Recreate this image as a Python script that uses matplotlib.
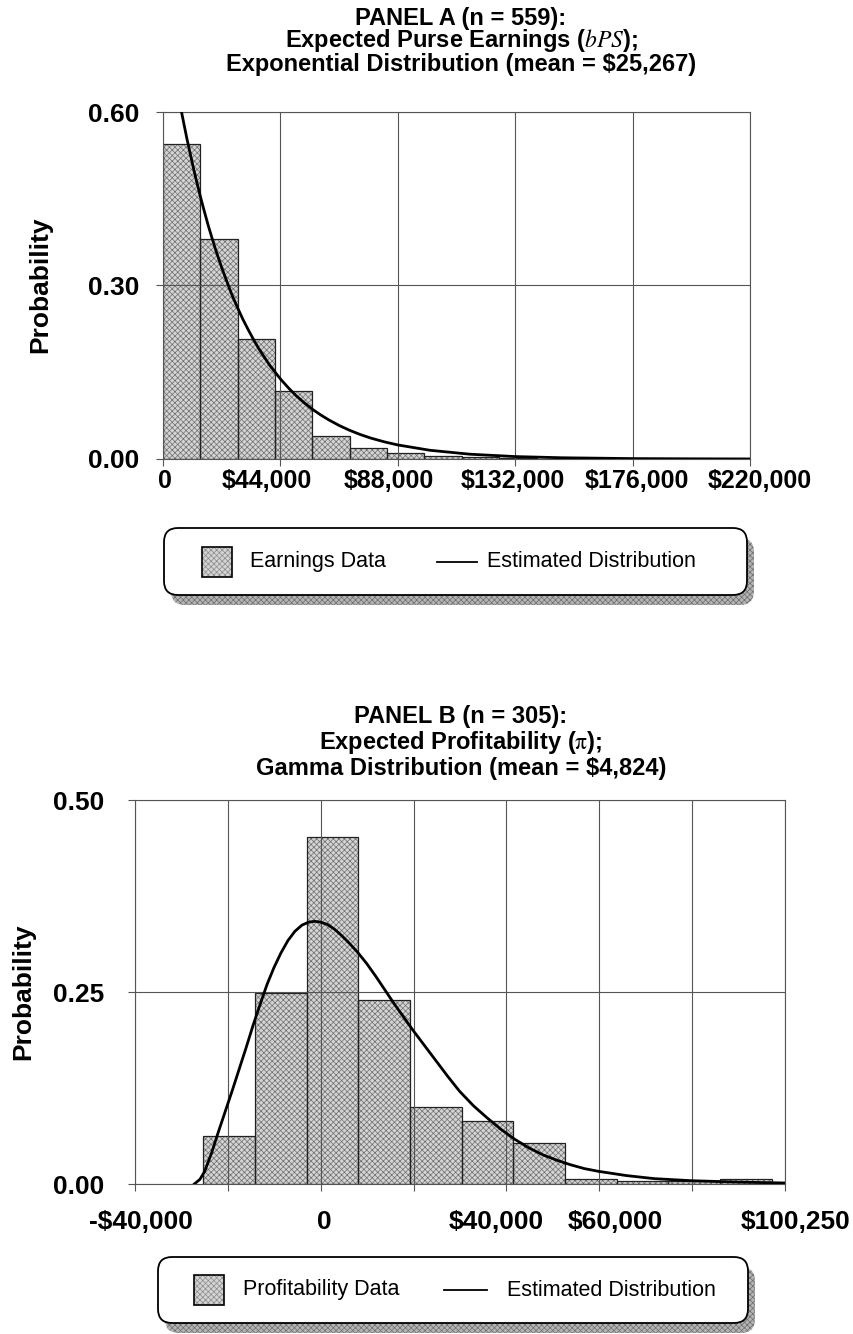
import numpy as np
import matplotlib
matplotlib.use("Agg")
import matplotlib.pyplot as plt
import matplotlib.transforms as mtransforms
from matplotlib.patches import FancyBboxPatch, Rectangle
from matplotlib.lines import Line2D
from matplotlib.ticker import FormatStrFormatter

# panel A: purse earnings histogram + fitted exponential
earn_edges = [0, 14000, 28000, 42000, 56000, 70000, 84000, 98000, 112000, 126000, 140000]
earn_prob = [0.544, 0.380, 0.207, 0.118, 0.039, 0.019, 0.010, 0.006, 0.003, 0.002]
earn_curve_x = [6900, 7900, 9000, 11500, 12700, 14000, 15500, 17000, 18500, 20000, 22000,
                24000, 26000, 28000, 30000, 32000, 34000, 36000, 38000, 40000, 44000,
                47000, 50000, 53000, 56000, 59000, 62000, 66000, 70000, 74000, 78000,
                83000, 88000, 100000, 115000, 132000, 150000, 176000, 200000, 220000]
earn_curve_y = [0.601, 0.578, 0.553, 0.501, 0.478, 0.454, 0.428, 0.403, 0.380, 0.358, 0.331,
                0.306, 0.282, 0.261, 0.241, 0.223, 0.206, 0.190, 0.176, 0.162, 0.1385,
                0.123, 0.109, 0.097, 0.086, 0.0765, 0.068, 0.058, 0.0495, 0.0422, 0.036,
                0.0296, 0.0243, 0.0151, 0.0083, 0.0042, 0.0021, 0.0007, 0.0003, 0.0001]
earn_xticks = [0, 44000, 88000, 132000, 176000, 220000]
earn_xlabels = ["0", "$44,000", "$88,000", "$132,000", "$176,000", "$220,000"]
earn_yticks = [0.0, 0.30, 0.60]

# panel B: profitability histogram + fitted gamma
prof_edges = [-25250, -14100, -2950, 8200, 19350, 30500, 41650, 52800, 63950, 75100, 86250, 97400]
prof_prob = [0.062, 0.249, 0.452, 0.239, 0.100, 0.082, 0.053, 0.007, 0.004, 0.004, 0.006]
prof_curve_x = [-27200, -26000, -25000, -23500, -22000, -20500, -19000, -17500, -16000,
                -14500, -13000, -11500, -10000, -8500, -7000, -5500, -4000, -2500, -1200,
                0, 1500, 3000, 4500, 6000, 8000, 10000, 12000, 14000, 16000, 18000, 20000,
                22500, 25000, 27500, 30000, 33000, 36000, 39000, 42000, 45000, 48000,
                51000, 54000, 57000, 60000, 66000, 72000, 80000, 90000, 100250]
prof_curve_y = [0.0, 0.006, 0.016, 0.040, 0.068, 0.095, 0.122, 0.150, 0.178,
                0.207, 0.234, 0.260, 0.282, 0.301, 0.317, 0.329, 0.337, 0.341, 0.342,
                0.341, 0.338, 0.332, 0.324, 0.315, 0.302, 0.287, 0.270, 0.252, 0.234, 0.217, 0.200,
                0.180, 0.160, 0.140, 0.121, 0.102, 0.086, 0.071, 0.058, 0.047, 0.038,
                0.031, 0.025, 0.020, 0.0165, 0.011, 0.007, 0.0043, 0.0025, 0.0013]
prof_xlim = [-40000, 100250]
prof_xlabels = ["-$40,000", "", "0", "", "$40,000", "$60,000", "", "$100,250"]
prof_yticks = [0.0, 0.25, 0.50]

plt.rcParams["font.family"] = ["Liberation Sans", "DejaVu Sans"]
plt.rcParams["mathtext.fontset"] = "stix"
plt.rcParams["hatch.linewidth"] = 0.5

W, H = 854, 1334
fig = plt.figure(figsize=(W / 100, H / 100), dpi=100)


def px_axes(x0, y0, x1, y1):
    # axes from pixel box (y measured from top)
    return fig.add_axes([x0 / W, 1 - y1 / H, (x1 - x0) / W, (y1 - y0) / H])


def draw_hist(ax, edges, probs):
    widths = np.diff(edges)
    ax.bar(edges[:-1], probs, width=widths, align="edge", color="#d4d4d4",
           edgecolor="#6e6e6e", hatch="xxxxxx", linewidth=0, zorder=1)
    ax.bar(edges[:-1], probs, width=widths, align="edge", color="none",
           edgecolor="#222222", linewidth=0.9, zorder=1.5)


def style_axes(ax, ypad, xpad, xsize, nudges):
    ax.set_axisbelow(False)
    ax.grid(True, color="#555555", linewidth=0.8)
    for s in ax.spines.values():
        s.set_color("#555555")
        s.set_linewidth(0.8)
    ax.tick_params(length=5, width=0.8, color="#555555", labelsize=19)
    ax.tick_params(axis="y", pad=ypad)
    ax.tick_params(axis="x", pad=xpad, labelsize=xsize)
    for lab in ax.get_xticklabels() + ax.get_yticklabels():
        lab.set_fontweight("bold")
    # the original labels sit a little off their grid lines
    for lab, dx in zip(ax.get_xticklabels(), nudges):
        lab.set_transform(lab.get_transform() +
                          mtransforms.ScaledTranslation(dx / 100, 0, fig.dpi_scale_trans))
    ax.yaxis.set_major_formatter(FormatStrFormatter("%.2f"))


# ---- panel A
axA = px_axes(163, 112, 750, 459)
draw_hist(axA, earn_edges, earn_prob)
axA.plot(earn_curve_x, earn_curve_y, color="black", linewidth=2, zorder=3)
axA.set_xlim(0, 220000)
axA.set_ylim(0, 0.60)
axA.set_xticks(earn_xticks)
axA.set_xticklabels(earn_xlabels)
axA.set_yticks(earn_yticks)
style_axes(axA, 12, 2, 18, [2, -14, -9, -2, 4, 10])

# ---- panel B
axB = px_axes(135, 800, 785, 1184)
draw_hist(axB, prof_edges, prof_prob)
axB.plot(prof_curve_x, prof_curve_y, color="black", linewidth=2, zorder=3)
axB.set_xlim(prof_xlim)
axB.set_ylim(0, 0.50)
axB.set_xticks(np.linspace(prof_xlim[0], prof_xlim[1], len(prof_xlabels)))
axB.set_xticklabels(prof_xlabels)
axB.set_yticks(prof_yticks)
style_axes(axB, 17, 14, 19, [6, 0, 4, 0, -10, 16, 0, 11])

# ---- overlay in pixel units for titles, y labels and legend boxes
ov = fig.add_axes([0, 0, 1, 1])
ov.set_xlim(0, W)
ov.set_ylim(H, 0)
ov.axis("off")

tkw = dict(ha="center", va="center", fontsize=17, fontweight="bold")
ov.text(461, 18, "PANEL A (n = 559):", **tkw)
ov.text(461, 41, r"Expected Purse Earnings ($\mathit{bPS}$);", **tkw)
ov.text(461, 64, "Exponential Distribution (mean = $25,267)", **tkw)
ov.text(461, 716, "PANEL B (n = 305):", **tkw)
ov.text(461, 742, r"Expected Profitability ($\mathrm{\pi}$);", **tkw)
ov.text(461, 768, "Gamma Distribution (mean = $4,824)", **tkw)

ov.text(40, 285, "Probability", rotation=90, ha="center", va="center",
        fontsize=19, fontweight="bold")
ov.text(23, 992, "Probability", rotation=90, ha="center", va="center",
        fontsize=19, fontweight="bold")


def draw_legend(x0, y0, x1, y1, patch_x, text1_x, line_x, text2_x, label):
    w, h = x1 - x0, y1 - y0
    bs = "round,pad=0,rounding_size=14"
    ov.add_patch(FancyBboxPatch((x0 + 7, y0 + 10), w, h, boxstyle=bs,
                                facecolor="#b4b4b4", edgecolor="#6e6e6e",
                                hatch="xxxxxx", linewidth=0))
    ov.add_patch(FancyBboxPatch((x0, y0), w, h, boxstyle=bs, facecolor="white",
                                edgecolor="black", linewidth=1.3))
    cy = (y0 + y1) / 2
    ov.add_patch(Rectangle((patch_x, cy - 15), 30, 30, facecolor="#d4d4d4",
                           edgecolor="#8a8a8a", hatch="xxxxxx", linewidth=0))
    ov.add_patch(Rectangle((patch_x, cy - 15), 30, 30, facecolor="none",
                           edgecolor="black", linewidth=1.2))
    ov.text(text1_x, cy, label, ha="left", va="center", fontsize=15.5)
    ov.add_line(Line2D(line_x, [cy, cy], color="black", linewidth=1.3))
    ov.text(text2_x, cy, "Estimated Distribution", ha="left", va="center", fontsize=15.5)


draw_legend(164, 528, 747, 595, 202, 250, [437, 477], 487, "Earnings Data")
draw_legend(158, 1257, 748, 1323, 194, 243, [444, 487], 507, "Profitability Data")

fig.savefig("out.png", dpi=100)
